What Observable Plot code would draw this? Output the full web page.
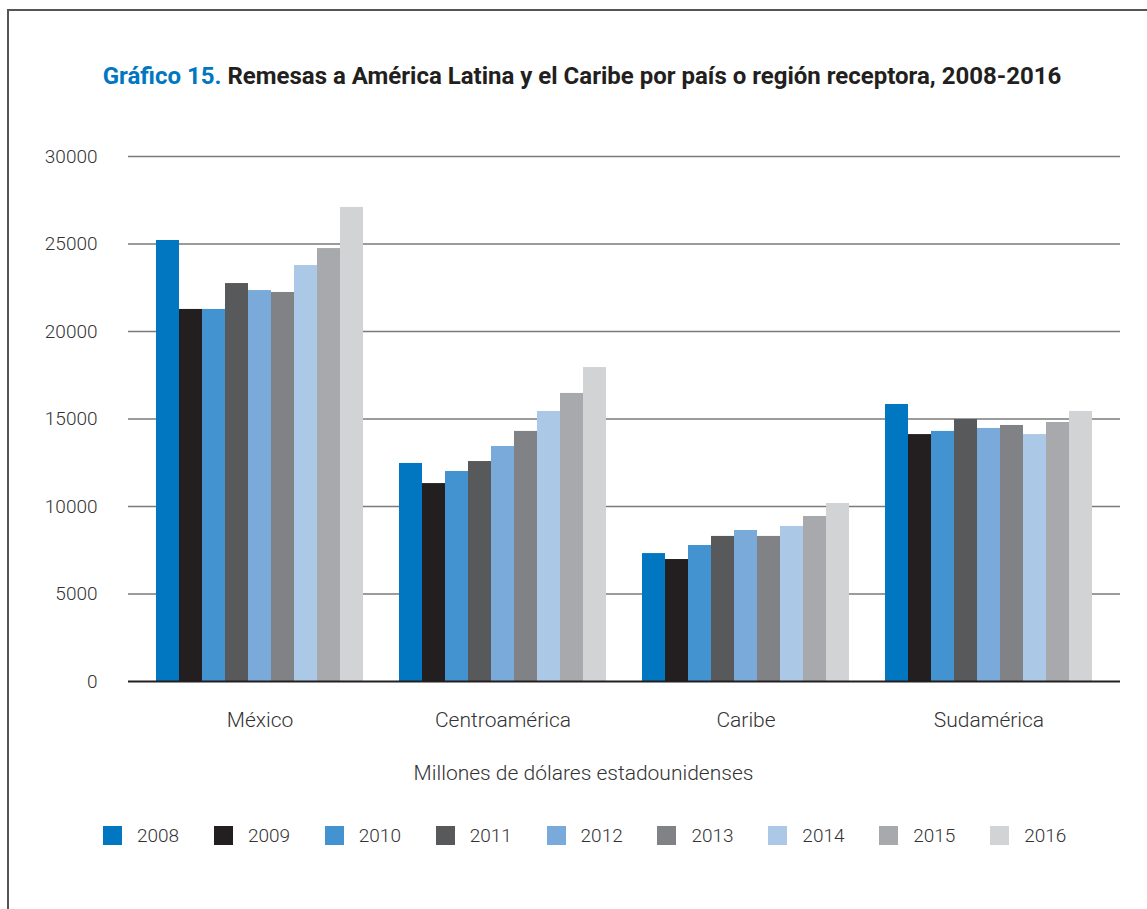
<!DOCTYPE html>
<html>
<head>
<meta charset="utf-8">
<script src="https://cdn.jsdelivr.net/npm/d3@7"></script>
<script src="https://cdn.jsdelivr.net/npm/@observablehq/plot@0.6"></script>
<style>
  html, body { margin: 0; padding: 0; background: #fff; }
  body { width: 1147px; height: 909px; position: relative; overflow: hidden; font-family: Roboto, "Noto Sans", sans-serif; }
  #frame { position: absolute; left: 7px; top: 9px; width: 1200px; height: 1000px; border-left: 2px solid #555; border-top: 2px solid #555; }
  #title { position: absolute; left: 0; width: 1164px; top: 62px; text-align: center; font-size: 24px; font-weight: 700; color: #231f20; line-height: 28px; white-space: nowrap; }
  #title .num { color: #0077c0; }
  #chart { position: absolute; left: 0; top: 0; }
  #axtitle { position: absolute; left: 0; width: 1167px; top: 761px; text-align: center; font-size: 21px; font-weight: 300; color: #333; line-height: 24px; }
  #legend { position: absolute; left: 103px; top: 819px; }
</style>
</head>
<body>
<div id="frame"></div>
<div id="chart"></div>
<div id="title"><span class="num">Gráfico 15.</span> Remesas a América Latina y el Caribe por país o región receptora, 2008-2016</div>
<div id="axtitle">Millones de dólares estadounidenses</div>
<div id="legend"></div>
<script>
const regions = ["México", "Centroamérica", "Caribe", "Sudamérica"];
const years = ["2008", "2009", "2010", "2011", "2012", "2013", "2014", "2015", "2016"];
const mexico        = [25200, 21260, 21260, 22740, 22340, 22230, 23770, 24740, 27090];
const centroamerica = [12460, 11310, 12000, 12570, 13430, 14290, 15430, 16460, 17940];
const caribe        = [7310, 6970, 7770, 8290, 8630, 8290, 8860, 9430, 10170];
const sudamerica    = [15830, 14110, 14290, 14970, 14460, 14630, 14110, 14800, 15430];
const yearColors = ["#0077c0", "#231f20", "#4393d0", "#58595b", "#7aaad9", "#808285", "#abc8e7", "#a7a9ac", "#d1d3d4"];
const yTicks = [0, 5000, 10000, 15000, 20000, 25000, 30000];

const seriesByRegion = [mexico, centroamerica, caribe, sudamerica];
const data = [];
regions.forEach((r, i) => years.forEach((y, j) => data.push({region: r, year: y, value: seriesByRegion[i][j]})));

// grid rows: one per facet and tick
const gridRows = [];
regions.forEach(r => yTicks.forEach(t => gridRows.push({region: r, tick: t})));

function rules(filterTick, stroke, strokeWidth) {
  const first = regions[0], last = regions[regions.length - 1];
  const rows = gridRows.filter(d => filterTick(d.tick));
  return [
    Plot.ruleY(rows.filter(d => d.region === first), {fx: "region", y: "tick", stroke, strokeWidth, insetLeft: -10}),
    Plot.ruleY(rows.filter(d => d.region !== first && d.region !== last), {fx: "region", y: "tick", stroke, strokeWidth}),
    Plot.ruleY(rows.filter(d => d.region === last), {fx: "region", y: "tick", stroke, strokeWidth, insetRight: -10})
  ];
}

const chart = Plot.plot({
  width: 1147,
  height: 800,
  marginLeft: 138,
  marginRight: 37,
  marginTop: 156,
  marginBottom: 119,
  style: {fontFamily: "Roboto, 'Noto Sans', sans-serif", fontSize: "19px", fontWeight: 300, color: "#333", background: "transparent", overflow: "visible"},
  fx: {domain: regions, padding: 0, label: null, axis: null},
  x: {domain: years, paddingInner: 0, paddingOuter: 0.75, axis: null},
  y: {domain: [0, 30000], ticks: yTicks, tickFormat: d => String(d), tickSize: 0, tickPadding: 41, label: null},
  color: {domain: years, range: yearColors},
  marks: [
    ...rules(t => t > 0, "#7a7a7a", 1.3),
    Plot.barY(data, {fx: "region", x: "year", y: "value", fill: "year"}),
    Plot.axisFx({anchor: "bottom", tickSize: 0, tickPadding: 31, fontSize: 21, label: null}),
    ...rules(t => t === 0, "#231f20", 2.2)
  ]
});
document.getElementById("chart").appendChild(chart);

const legend = Plot.legend({
  color: {domain: years, range: yearColors},
  swatchSize: 19,
  style: {fontFamily: "Roboto, 'Noto Sans', sans-serif", fontSize: "19px", fontWeight: 300, color: "#333"}
});
legend.style.margin = "0";
legend.style.display = "flex";
legend.style.flexWrap = "nowrap";
legend.querySelectorAll("svg").forEach(s => {
  s.style.marginRight = "15px";
  const span = s.parentElement;
  span.style.width = "110.9px";
  span.style.marginRight = "0";
  span.style.flex = "0 0 110.9px";
  span.style.display = "inline-flex";
  span.style.alignItems = "center";
  span.style.lineHeight = "22px";
});
document.getElementById("legend").appendChild(legend);
</script>
</body>
</html>
